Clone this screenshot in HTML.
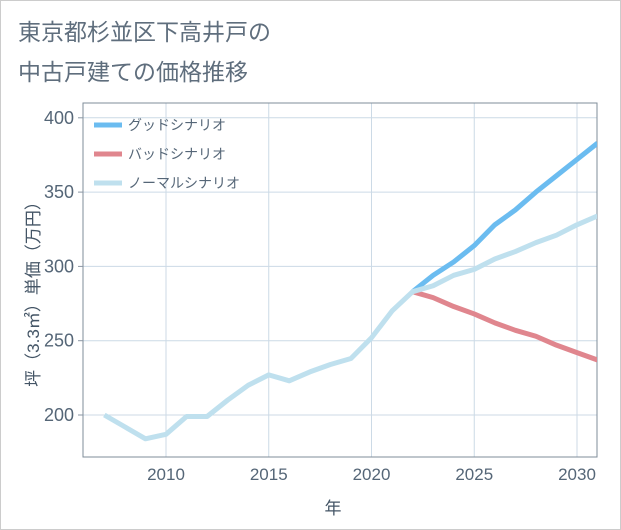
<!DOCTYPE html>
<html><head><meta charset="utf-8"><style>
body{margin:0;background:#fff;}
svg{display:block;font-family:"Liberation Sans","Noto Sans CJK JP",sans-serif;}
</style></head><body>
<svg id="c" width="621" height="530">
<rect x="0.5" y="0.5" width="620" height="529" fill="#fff" stroke="#ccc"/>
<text x="18" y="40" font-size="23" fill="#5f6e7d">東京都杉並区下高井戸の</text>
<text x="18" y="80" font-size="23" fill="#5f6e7d">中古戸建ての価格推移</text>
<g id="grid"></g>
<rect x="83" y="103" width="514" height="354" fill="none" stroke="#7f8c99"/>
<g id="ticks"></g>
<g id="series"></g>
<text x="333" y="514" font-size="17" fill="#445566" text-anchor="middle">年</text>
<text transform="translate(39,290) rotate(-90)" font-size="17" fill="#445566" text-anchor="middle">坪（3.3㎡）単価（万円）</text>
<g>
<line x1="94" y1="125" x2="122" y2="125" stroke="#6bbcf0" stroke-width="5"/>
<text x="128" y="130" font-size="14" fill="#556677">グッドシナリオ</text>
<line x1="94" y1="154" x2="122" y2="154" stroke="#e0868e" stroke-width="5"/>
<text x="128" y="159" font-size="14" fill="#556677">バッドシナリオ</text>
<line x1="94" y1="183" x2="122" y2="183" stroke="#bfe0ee" stroke-width="5"/>
<text x="128" y="188" font-size="14" fill="#556677">ノーマルシナリオ</text>
</g>
</svg>
<script>
const normalYears=[2007,2008,2009,2010,2011,2012,2013,2014,2015,2016,2017,2018,2019,2020,2021,2022,2023,2024,2025,2026,2027,2028,2029,2030,2031];
const normalValues=[200,192,184,187,199,199,210,220,227,223,229,234,238,252,270,283,287,294,298,305,310,316,321,328,334];
const scenYears=[2022,2023,2024,2025,2026,2027,2028,2029,2030,2031];
const goodValues=[283,294,303,314,328,338,350,361,372,383];
const badValues=[283,279,273,268,262,257,253,247,242,237];
const xTicks=[2010,2015,2020,2025,2030];
const yTicks=[200,250,300,350,400];
const NS="http://www.w3.org/2000/svg";
function xs(v){return 166+(v-2010)*20.55;}
function ys(v){return 415-(v-200)*1.486;}
const grid=document.getElementById('grid'),ticks=document.getElementById('ticks'),ser=document.getElementById('series');
function mk(tag,attrs,parent){const e=document.createElementNS(NS,tag);for(const k in attrs)e.setAttribute(k,attrs[k]);parent.appendChild(e);return e;}
xTicks.forEach(t=>{
 const l=mk('line',{x1:xs(t),x2:xs(t),y1:103,y2:457,stroke:'#ccdae6'},grid);
 
 
 const tx=mk('text',{x:xs(t),y:480,'font-size':17,fill:'#556677','text-anchor':'middle'},ticks);
 tx.textContent=t;
 
 
});
yTicks.forEach(t=>{
 const l=mk('line',{x1:83,x2:597,y1:ys(t),y2:ys(t),stroke:'#ccdae6'},grid);
 
 
 const m=mk('line',{x1:78,x2:83,y1:ys(t),y2:ys(t),stroke:'#8a96a3'},ticks);
 
 
 const tx=mk('text',{x:74,y:ys(t)+6,'font-size':18,fill:'#556677','text-anchor':'end'},ticks);
 tx.textContent=t;
 
 
});
const clip=mk('clipPath',{id:'pc'},document.getElementById('c'));
mk('rect',{x:83,y:103,width:514,height:354},clip);
function line(xv,yv,color,name){
 const p=mk('polyline',{points:xv.map((x,i)=>xs(x)+','+ys(yv[i])).join(' '),fill:'none',stroke:color,'stroke-width':5,'stroke-linejoin':'round','clip-path':'url(#pc)'},ser);
 
 
}
line(scenYears,badValues,'#e0868e','bad-scenario-line');
line(scenYears,goodValues,'#6bbcf0','good-scenario-line');
line(normalYears,normalValues,'#bfe0ee','normal-scenario-line');
</script>
</body></html>
